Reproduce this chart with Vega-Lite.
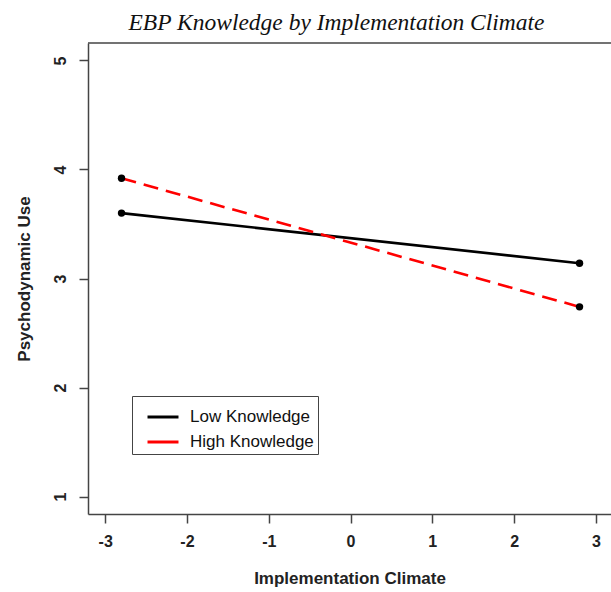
{
  "$schema": "https://vega.github.io/schema/vega-lite/v6.json",
  "autosize": {"type": "none"},
  "padding": {"left": 88, "top": 43, "right": 0, "bottom": 78},
  "width": 523,
  "height": 471,
  "background": "white",
  "title": {
    "text": "EBP Knowledge by Implementation Climate",
    "font": "Liberation Serif",
    "fontStyle": "italic",
    "fontWeight": "normal",
    "fontSize": 23.5,
    "color": "#111",
    "anchor": "middle",
    "baseline": "bottom",
    "offset": 10,
    "dx": -13,
    "dy": 26
  },
  "config": {
    "view": {"stroke": null},
    "axis": {
      "domainColor": "#444",
      "domainWidth": 1.5,
      "tickColor": "#444",
      "tickWidth": 1.5,
      "tickSize": 9,
      "grid": false,
      "labelFont": "Liberation Sans",
      "labelFontWeight": "bold",
      "labelFontSize": 16,
      "labelColor": "#222",
      "titleFont": "Liberation Sans",
      "titleFontWeight": "bold",
      "titleFontSize": 17,
      "titleColor": "#222"
    }
  },
  "datasets": {
    "lines": [
      {"climate": -2.8, "use": 3.60, "group": "Low Knowledge"},
      {"climate": 2.8, "use": 3.14, "group": "Low Knowledge"},
      {"climate": -2.8, "use": 3.92, "group": "High Knowledge"},
      {"climate": 2.8, "use": 2.74, "group": "High Knowledge"}
    ],
    "frame": [{"top": 5.16}]
  },
  "encoding": {
    "x": {
      "field": "climate", "type": "quantitative",
      "scale": {"domain": [-3.21, 3.185], "nice": false, "zero": false},
      "axis": {"values": [-3, -2, -1, 0, 1, 2, 3], "labelExpr": "datum.value < 0 ? '-' + abs(datum.value) : '' + datum.value", "title": "Implementation Climate", "labelFontSize": 16, "labelPadding": 10, "titlePadding": 21}
    },
    "y": {
      "field": "use", "type": "quantitative",
      "scale": {"domain": [0.84, 5.16], "nice": false, "zero": false},
      "axis": {"values": [1, 2, 3, 4, 5], "title": "Psychodynamic Use", "labelFontSize": 16, "labelAngle": 270, "labelAlign": "center", "labelBaseline": "bottom", "labelPadding": 11, "titlePadding": 19}
    }
  },
  "layer": [
    {
      "data": {"name": "frame"},
      "mark": {"type": "rule", "color": "#444", "strokeWidth": 1.5},
      "encoding": {
        "x": null,
        "y": {"field": "top", "type": "quantitative"}
      }
    },
    {
      "data": {"name": "lines"},
      "transform": [{"filter": "datum.group === 'Low Knowledge'"}],
      "mark": {"type": "line", "strokeWidth": 2.6},
      "encoding": {
        "color": {
          "field": "group", "type": "nominal",
          "scale": {"domain": ["Low Knowledge", "High Knowledge"], "range": ["#000000", "#ff0000"]},
          "legend": {
            "orient": "none", "legendX": 44, "legendY": 353, "title": null,
            "strokeColor": "#444", "padding": 4, "symbolOffset": 10,
            "symbolType": "stroke", "symbolSize": 960, "symbolStrokeWidth": 3,
            "labelFont": "Liberation Sans", "labelFontSize": 17, "labelColor": "#111",
            "labelOffset": 10, "rowPadding": -12, "fillColor": "white"
          }
        }
      }
    },
    {
      "data": {"name": "lines"},
      "transform": [{"filter": "datum.group === 'High Knowledge'"}],
      "mark": {"type": "line", "strokeWidth": 2.6, "strokeDash": [15, 8]},
      "encoding": {
        "color": {"field": "group", "type": "nominal"}
      }
    },
    {
      "data": {"name": "lines"},
      "mark": {"type": "point", "filled": true, "color": "#000", "size": 55, "opacity": 1}
    }
  ]
}
